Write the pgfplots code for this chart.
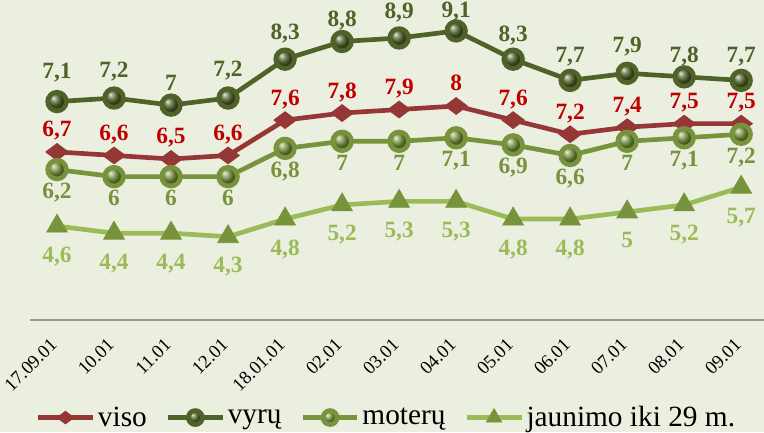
\documentclass[border=0pt]{standalone}
\usepackage{pgfplots}
\usepackage{pgfplotstable}
\pgfplotsset{compat=1.18}
\usepackage{fontspec}
\setmainfont{Liberation Serif}
\usetikzlibrary{backgrounds}

\definecolor{bgcol}{HTML}{EBEFDF}
\definecolor{visocol}{HTML}{953735}
\definecolor{visolab}{HTML}{C00000}
\definecolor{vyrcol}{HTML}{4F6228}
\definecolor{motcol}{HTML}{77933C}
\definecolor{jauncol}{HTML}{9BBB59}

% vyru: value and label offset (pt) above the point
\pgfplotstableread{
x y dy
0 7.1 17
1 7.2 15.5
2 7.0 11
3 7.2 16
4 8.3 15
5 8.8 11.5
6 8.9 14.5
7 9.1 10
8 8.3 13.5
9 7.7 13.5
10 7.9 15.5
11 7.8 11
12 7.7 13.5
}\vyru

\pgfplotsset{
  base/.style={
    width=550.5pt, height=239.8pt, scale only axis,
    xmin=-0.474, xmax=12.4,
    clip=false,
    /pgf/number format/use comma,
    /pgf/number format/assume math mode=true,
    nodes near coords,
    legend image code/.code={
      \draw[mark repeat=2, mark phase=2, ##1, every mark/.append style={scale=0.75}]
        plot coordinates {(0pt,0pt) (20.6pt,0pt) (41.2pt,0pt)};},
  },
  lbl/.style 2 args={every node near coord/.append style={
      anchor=base, yshift=#2, text=#1,
      font=\fontsize{17.5}{17.5}\selectfont\bfseries}},
  visostyle/.style={visocol, line width=3.5pt, mark=diamond*,
      mark size=8.5pt, mark options={rotate=90, fill=visocol, draw=visocol, line width=0.5pt}},
  vyrstyle/.style={vyrcol, line width=3.5pt, mark=ball, mark size=7pt,
      mark options={ball color=vyrcol}},
  motstyle/.style={motcol, line width=3.5pt, mark=ball, mark size=7pt,
      mark options={ball color=motcol}},
  jaunstyle/.style={jauncol, line width=3.5pt, mark=triangle*, mark size=9pt,
      mark options={fill=motcol, draw=motcol, line width=0.5pt}},
}

\begin{document}
\begin{tikzpicture}
\begin{axis}[
    base, name=main,
    ymin=1.95, ymax=11,
    axis x line=bottom, axis y line=none,
    axis line style={-, draw=gray!80, line width=1.2pt},
    major tick length=0pt,
    xtick={0,...,12},
    xticklabels={17.09.01,10.01,11.01,12.01,18.01.01,02.01,03.01,04.01,05.01,06.01,07.01,08.01,09.01},
    xticklabel style={rotate=45, anchor=east, font=\fontsize{14}{14}\selectfont},
    xticklabel shift=14pt,
    legend columns=-1,
    legend style={draw=none, fill=none, at={(0.486,-0.306)}, anchor=center,
      font=\fontsize{22}{22}\selectfont,
      /tikz/every even column/.append style={column sep=12pt}},
]
\addplot[visostyle, lbl={visolab}{11.25pt}] coordinates {
  (0,6.7) (1,6.6) (2,6.5) (3,6.6) (4,7.6) (5,7.8) (6,7.9) (7,8) (8,7.6) (9,7.2) (10,7.4) (11,7.5) (12,7.5)};
\addlegendimage{vyrstyle}
\addplot[motstyle, lbl={motcol}{-21.75pt}] coordinates {
  (0,6.2) (1,6) (2,6) (3,6) (4,6.8) (5,7) (6,7) (7,7.1) (8,6.9) (9,6.6) (10,7) (11,7.1) (12,7.2)};
\addplot[jaunstyle, lbl={jauncol}{-27pt}] coordinates {
  (0,4.6) (1,4.4) (2,4.4) (3,4.3) (4,4.8) (5,5.2) (6,5.3) (7,5.3) (8,4.8) (9,4.8) (10,5) (11,5.2) (12,5.7)};
\legend{viso, vyrų, moterų, jaunimo iki 29 m.}
\end{axis}
\begin{axis}[
    base, hide axis,
    ymin=0.925, ymax=9.975,
]
\addplot[vyrstyle, lbl={vyrcol}{\dy pt},
  visualization depends on={\thisrow{dy} \as \dy}] table[x=x, y=y] {\vyru};
\end{axis}
\begin{pgfonlayer}{background}
\fill[bgcol] ([shift={(-22.5pt,-84.2pt)}]main.south west) rectangle (main.north east);
\end{pgfonlayer}
\pgfresetboundingbox
\path[use as bounding box] ([shift={(-22.5pt,-84.2pt)}]main.south west) rectangle (main.north east);
\end{tikzpicture}
\end{document}
